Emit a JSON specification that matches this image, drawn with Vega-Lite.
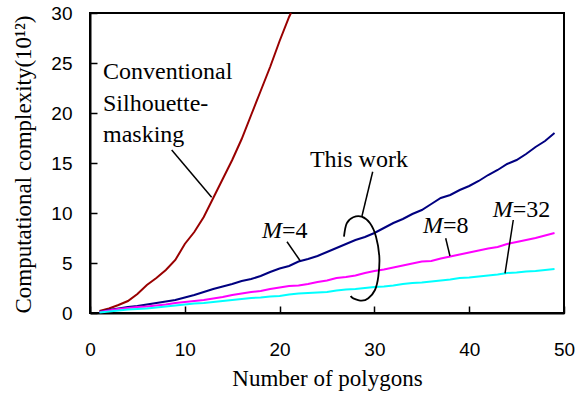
{
  "$schema": "https://vega.github.io/schema/vega-lite/v6.json",
  "width": 474,
  "height": 300,
  "autosize": "none",
  "padding": {"left": 90, "top": 13, "right": 19, "bottom": 81},
  "background": "white",
  "config": {
    "view": {"stroke": "black", "strokeWidth": 2},
    "axis": {
      "grid": false,
      "labelFont": "Liberation Sans",
      "labelFontSize": 19,
      "labelColor": "black",
      "tickSize": -7,
      "tickColor": "black",
      "tickWidth": 1.5,
      "domainColor": "black",
      "domainWidth": 2,
      "labelFlush": false,
      "labelOverlap": false,
      "titleFont": "Liberation Serif",
      "titleFontSize": 23,
      "titleFontWeight": "normal",
      "titleColor": "black"
    }
  },
  "layer": [
    {
      "data": {"values": [
        {"s":"conv","x":1,"y":0.2},{"s":"conv","x":2,"y":0.45},{"s":"conv","x":3,"y":0.8},{"s":"conv","x":4,"y":1.2},{"s":"conv","x":5,"y":1.9},{"s":"conv","x":6,"y":2.8},{"s":"conv","x":7,"y":3.5},{"s":"conv","x":8,"y":4.3},{"s":"conv","x":9,"y":5.3},{"s":"conv","x":10,"y":6.9},{"s":"conv","x":11,"y":8.1},{"s":"conv","x":12,"y":9.6},{"s":"conv","x":13,"y":11.5},{"s":"conv","x":14,"y":13.4},{"s":"conv","x":15,"y":15.3},{"s":"conv","x":16,"y":17.4},{"s":"conv","x":17,"y":19.8},{"s":"conv","x":18,"y":22.2},{"s":"conv","x":19,"y":24.6},{"s":"conv","x":20,"y":27.2},{"s":"conv","x":21,"y":29.6},{"s":"conv","x":21.2,"y":30},
        {"s":"M4","x":1,"y":0.1},{"s":"M4","x":2,"y":0.3},{"s":"M4","x":3,"y":0.45},{"s":"M4","x":4,"y":0.6},{"s":"M4","x":5,"y":0.7},{"s":"M4","x":6,"y":0.85},{"s":"M4","x":7,"y":1.0},{"s":"M4","x":8,"y":1.15},{"s":"M4","x":9,"y":1.3},{"s":"M4","x":10,"y":1.55},{"s":"M4","x":11,"y":1.8},{"s":"M4","x":12,"y":2.1},{"s":"M4","x":13,"y":2.4},{"s":"M4","x":14,"y":2.65},{"s":"M4","x":15,"y":2.9},{"s":"M4","x":16,"y":3.2},{"s":"M4","x":17,"y":3.4},{"s":"M4","x":18,"y":3.7},{"s":"M4","x":19,"y":4.1},{"s":"M4","x":20,"y":4.45},{"s":"M4","x":21,"y":4.7},{"s":"M4","x":22,"y":5.15},{"s":"M4","x":23,"y":5.4},{"s":"M4","x":24,"y":5.7},{"s":"M4","x":25,"y":6.1},{"s":"M4","x":26,"y":6.5},{"s":"M4","x":27,"y":6.9},{"s":"M4","x":28,"y":7.3},{"s":"M4","x":29,"y":7.6},{"s":"M4","x":30,"y":8.0},{"s":"M4","x":31,"y":8.5},{"s":"M4","x":32,"y":9.0},{"s":"M4","x":33,"y":9.4},{"s":"M4","x":34,"y":9.9},{"s":"M4","x":35,"y":10.3},{"s":"M4","x":36,"y":10.9},{"s":"M4","x":37,"y":11.5},{"s":"M4","x":38,"y":11.8},{"s":"M4","x":39,"y":12.3},{"s":"M4","x":40,"y":12.7},{"s":"M4","x":41,"y":13.2},{"s":"M4","x":42,"y":13.8},{"s":"M4","x":43,"y":14.3},{"s":"M4","x":44,"y":14.9},{"s":"M4","x":45,"y":15.3},{"s":"M4","x":46,"y":15.9},{"s":"M4","x":47,"y":16.6},{"s":"M4","x":48,"y":17.2},{"s":"M4","x":49,"y":18.0},
        {"s":"M8","x":1,"y":0.1},{"s":"M8","x":2,"y":0.25},{"s":"M8","x":3,"y":0.4},{"s":"M8","x":4,"y":0.5},{"s":"M8","x":5,"y":0.6},{"s":"M8","x":6,"y":0.65},{"s":"M8","x":7,"y":0.75},{"s":"M8","x":8,"y":0.85},{"s":"M8","x":9,"y":1.0},{"s":"M8","x":10,"y":1.1},{"s":"M8","x":11,"y":1.2},{"s":"M8","x":12,"y":1.3},{"s":"M8","x":13,"y":1.45},{"s":"M8","x":14,"y":1.6},{"s":"M8","x":15,"y":1.8},{"s":"M8","x":16,"y":1.95},{"s":"M8","x":17,"y":2.1},{"s":"M8","x":18,"y":2.2},{"s":"M8","x":19,"y":2.4},{"s":"M8","x":20,"y":2.55},{"s":"M8","x":21,"y":2.7},{"s":"M8","x":22,"y":2.75},{"s":"M8","x":23,"y":2.9},{"s":"M8","x":24,"y":3.1},{"s":"M8","x":25,"y":3.25},{"s":"M8","x":26,"y":3.5},{"s":"M8","x":27,"y":3.6},{"s":"M8","x":28,"y":3.75},{"s":"M8","x":29,"y":4.0},{"s":"M8","x":30,"y":4.2},{"s":"M8","x":31,"y":4.35},{"s":"M8","x":32,"y":4.55},{"s":"M8","x":33,"y":4.75},{"s":"M8","x":34,"y":4.95},{"s":"M8","x":35,"y":5.15},{"s":"M8","x":36,"y":5.2},{"s":"M8","x":37,"y":5.45},{"s":"M8","x":38,"y":5.65},{"s":"M8","x":39,"y":5.85},{"s":"M8","x":40,"y":6.05},{"s":"M8","x":41,"y":6.25},{"s":"M8","x":42,"y":6.45},{"s":"M8","x":43,"y":6.6},{"s":"M8","x":44,"y":6.9},{"s":"M8","x":45,"y":7.1},{"s":"M8","x":46,"y":7.3},{"s":"M8","x":47,"y":7.5},{"s":"M8","x":48,"y":7.75},{"s":"M8","x":49,"y":8.0},
        {"s":"M32","x":1,"y":0.05},{"s":"M32","x":2,"y":0.15},{"s":"M32","x":3,"y":0.25},{"s":"M32","x":4,"y":0.35},{"s":"M32","x":5,"y":0.4},{"s":"M32","x":6,"y":0.45},{"s":"M32","x":7,"y":0.55},{"s":"M32","x":8,"y":0.65},{"s":"M32","x":9,"y":0.75},{"s":"M32","x":10,"y":0.85},{"s":"M32","x":11,"y":0.95},{"s":"M32","x":12,"y":1.0},{"s":"M32","x":13,"y":1.1},{"s":"M32","x":14,"y":1.2},{"s":"M32","x":15,"y":1.3},{"s":"M32","x":16,"y":1.4},{"s":"M32","x":17,"y":1.5},{"s":"M32","x":18,"y":1.55},{"s":"M32","x":19,"y":1.65},{"s":"M32","x":20,"y":1.7},{"s":"M32","x":21,"y":1.85},{"s":"M32","x":22,"y":1.95},{"s":"M32","x":23,"y":2.0},{"s":"M32","x":24,"y":2.05},{"s":"M32","x":25,"y":2.1},{"s":"M32","x":26,"y":2.25},{"s":"M32","x":27,"y":2.35},{"s":"M32","x":28,"y":2.4},{"s":"M32","x":29,"y":2.5},{"s":"M32","x":30,"y":2.6},{"s":"M32","x":31,"y":2.65},{"s":"M32","x":32,"y":2.75},{"s":"M32","x":33,"y":2.9},{"s":"M32","x":34,"y":3.0},{"s":"M32","x":35,"y":3.05},{"s":"M32","x":36,"y":3.15},{"s":"M32","x":37,"y":3.25},{"s":"M32","x":38,"y":3.35},{"s":"M32","x":39,"y":3.5},{"s":"M32","x":40,"y":3.55},{"s":"M32","x":41,"y":3.65},{"s":"M32","x":42,"y":3.75},{"s":"M32","x":43,"y":3.85},{"s":"M32","x":44,"y":4.0},{"s":"M32","x":45,"y":4.05},{"s":"M32","x":46,"y":4.15},{"s":"M32","x":47,"y":4.2},{"s":"M32","x":48,"y":4.3},{"s":"M32","x":49,"y":4.4}
      ]},
      "mark": {"type": "line", "strokeWidth": 2},
      "encoding": {
        "x": {"field": "x", "type": "quantitative", "scale": {"domain": [0, 50], "nice": false},
              "axis": {"values": [0, 10, 20, 30, 40, 50], "labelPadding": 34, "title": "Number of polygons", "titleY": 72, "titleBaseline": "alphabetic"}},
        "y": {"field": "y", "type": "quantitative", "scale": {"domain": [0, 30], "nice": false},
              "axis": {"values": [0, 5, 10, 15, 20, 25, 30], "labelPadding": 25, "title": "Computational complexity(10¹²)", "titleX": -67, "titleY": 151, "titleAngle": -90, "titleAlign": "center", "titleBaseline": "middle"}},
        "color": {"field": "s", "type": "nominal", "scale": {"domain": ["conv", "M4", "M8", "M32"], "range": ["#990000", "#000080", "#FF00FF", "#00FFFF"]}, "legend": null}
      }
    },
    {
      "data": {"values": [
        {"id":"a","x":8.62,"y":16.3},{"id":"a","x":12.83,"y":11.57},
        {"id":"b","x":29.82,"y":14.13},{"id":"b","x":28.69,"y":9.7},
        {"id":"c","x":20.78,"y":7.13},{"id":"c","x":22.15,"y":5.25},
        {"id":"d","x":37.52,"y":7.47},{"id":"d","x":37.97,"y":5.7},
        {"id":"e","x":44.65,"y":9.3},{"id":"e","x":43.78,"y":3.97}
      ]},
      "mark": {"type": "line", "color": "black", "strokeWidth": 1.5},
      "encoding": {
        "x": {"field": "x", "type": "quantitative"},
        "y": {"field": "y", "type": "quantitative"},
        "detail": {"field": "id"}
      }
    },
    {
      "data": {"values": [
        {"o":1,"x":26.79,"y":7.63},{"o":2,"x":27.08,"y":8.97},{"o":3,"x":27.77,"y":9.57},{"o":4,"x":28.66,"y":9.63},{"o":5,"x":29.54,"y":8.97},{"o":6,"x":30.17,"y":7.63},{"o":7,"x":30.52,"y":5.63},{"o":8,"x":30.41,"y":3.63},{"o":9,"x":30.06,"y":2.3},{"o":10,"x":29.36,"y":1.47},{"o":11,"x":28.66,"y":1.23},{"o":12,"x":27.77,"y":1.47},{"o":13,"x":27.5,"y":1.7}
      ]},
      "mark": {"type": "line", "color": "black", "strokeWidth": 1.8, "interpolate": "cardinal"},
      "encoding": {
        "x": {"field": "x", "type": "quantitative"},
        "y": {"field": "y", "type": "quantitative"},
        "order": {"field": "o", "type": "quantitative"}
      }
    },
    {
      "data": {"values": [
        {"x":1.37,"y":23.4,"t":"Conventional"},
        {"x":1.37,"y":20.2,"t":"Silhouette-"},
        {"x":1.37,"y":17.1,"t":"masking"},
        {"x":23.2,"y":14.63,"t":"This work"},
        {"x":20.25,"y":7.5,"t":"=4"},
        {"x":37.24,"y":7.97,"t":"=8"},
        {"x":44.6,"y":9.63,"t":"=32"}
      ]},
      "mark": {"type": "text", "align": "left", "baseline": "alphabetic", "font": "Liberation Serif", "fontSize": 24, "color": "black"},
      "encoding": {
        "x": {"field": "x", "type": "quantitative"},
        "y": {"field": "y", "type": "quantitative"},
        "text": {"field": "t"}
      }
    },
    {
      "data": {"values": [
        {"x":20.25,"y":7.5,"t":"M"},
        {"x":37.24,"y":7.97,"t":"M"},
        {"x":44.6,"y":9.63,"t":"M"}
      ]},
      "mark": {"type": "text", "align": "right", "baseline": "alphabetic", "font": "Liberation Serif", "fontStyle": "italic", "fontSize": 24, "color": "black"},
      "encoding": {
        "x": {"field": "x", "type": "quantitative"},
        "y": {"field": "y", "type": "quantitative"},
        "text": {"field": "t"}
      }
    }
  ]
}
